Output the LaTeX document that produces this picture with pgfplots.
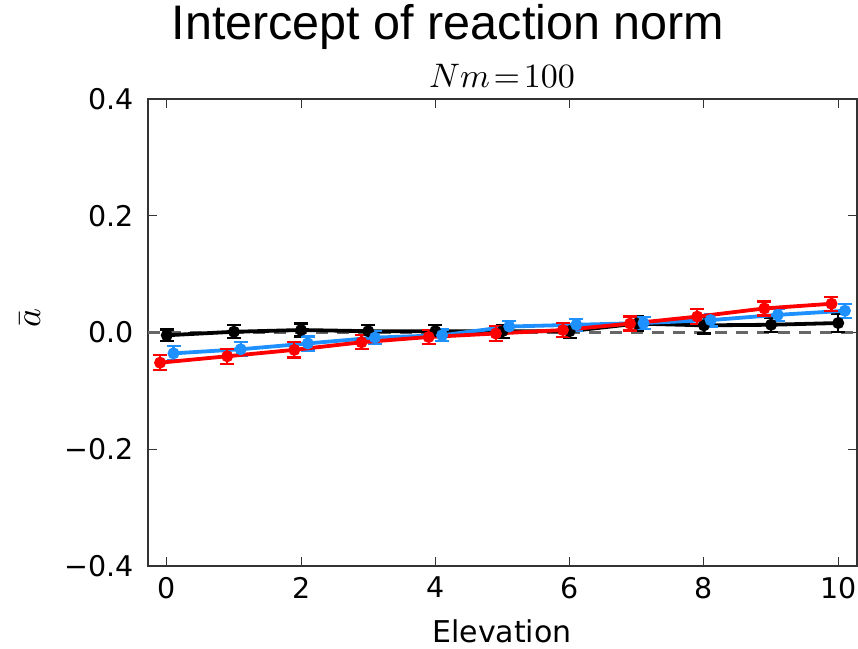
\documentclass[border=0pt]{standalone}
\usepackage{fontspec}
\setmainfont{DejaVu Sans}
\newfontfamily\arialfont{Liberation Sans}
\usepackage{graphicx}
\usepackage{pgfplots}
\usepackage{pgfplotstable}
\pgfplotsset{compat=1.18}
\definecolor{mblue}{RGB}{30,144,255}
\definecolor{mred}{RGB}{255,0,0}

\pgfplotstableread{
x y e
0 -0.005 0.010
1 0.001 0.011
2 0.004 0.011
3 0.002 0.011
4 0.002 0.010
5 0.002 0.011
6 0.002 0.011
7 0.015 0.012
8 0.012 0.014
9 0.013 0.012
10 0.016 0.016
}\blackdata

\pgfplotstableread{
x y e
0.1 -0.036 0.012
1.1 -0.029 0.012
2.1 -0.019 0.012
3.1 -0.009 0.011
4.1 -0.005 0.010
5.1 0.010 0.010
6.1 0.013 0.010
7.1 0.016 0.010
8.1 0.021 0.011
9.1 0.030 0.011
10.1 0.037 0.012
}\bluedata

\pgfplotstableread{
x y e
-0.1 -0.052 0.013
0.9 -0.041 0.013
1.9 -0.030 0.013
2.9 -0.017 0.012
3.9 -0.008 0.012
4.9 -0.002 0.013
5.9 0.004 0.012
6.9 0.015 0.012
7.9 0.027 0.013
8.9 0.041 0.012
9.9 0.049 0.012
}\reddata

\pgfplotstableread{
x y
-0.28 0
10.28 0
}\zerodata

\begin{document}
\begin{tikzpicture}
\path[use as bounding box] (0,0) rectangle (858pt,648pt);
\begin{axis}[
  at={(148pt,82.3pt)}, anchor=south west,
  width=709pt, height=466.7pt, scale only axis,
  xmin=-0.28, xmax=10.28, ymin=-0.4, ymax=0.4,
  xtick={0,2,4,6,8,10},
  xticklabels={0,2,4,6,8,10},
  ytick={-0.4,-0.2,0,0.2,0.4},
  yticklabels={−0.4,−0.2,0.0,0.2,0.4},
  tick align=inside,
  major tick length=9pt,
  minor tick num=0,
  tick style={line width=1pt, color=black!80},
  axis line style={line width=1.8pt, color=black!80},
  xticklabel style={font=\fontsize{28.5}{34}\selectfont, anchor=north, inner sep=0pt, yshift=-11pt},
  yticklabel style={font=\fontsize{28.5}{34}\selectfont, anchor=east, inner sep=0pt, xshift=-14pt},
  clip=false,
]
\addplot[gray!80!black, line width=2.5pt, dash pattern=on 12pt off 9pt] table[x=x, y=y] {\zerodata};
\addplot[black, line width=3.8pt, mark=*, mark size=4pt,
  error bars/.cd, y dir=both, y explicit,
  error bar style={line width=2.2pt, black},
  error mark options={rotate=90, mark size=7pt, line width=2.2pt, black}]
  table[x=x, y=y, y error=e] {\blackdata};
\addplot[mblue, line width=3.8pt, mark=*, mark size=4pt,
  error bars/.cd, y dir=both, y explicit,
  error bar style={line width=2.2pt, mblue},
  error mark options={rotate=90, mark size=7pt, line width=2.2pt, mblue}]
  table[x=x, y=y, y error=e] {\bluedata};
\addplot[mred, line width=3.8pt, mark=*, mark size=4pt,
  error bars/.cd, y dir=both, y explicit,
  error bar style={line width=2.2pt, mred},
  error mark options={rotate=90, mark size=7pt, line width=2.2pt, mred}]
  table[x=x, y=y, y error=e] {\reddata};
\end{axis}
\node[anchor=base, font=\arialfont\fontsize{48.5}{58}\selectfont] at (448pt,608pt) {Intercept of reaction norm};
\node[anchor=base] at (502pt,560pt) {\scalebox{3.4}{$Nm\!=\!100$}};
\node[rotate=90] at (30pt,330pt) {\scalebox{3.6}{$\bar{a}$}};
\node[anchor=base, font=\fontsize{30}{36}\selectfont] at (502pt,6pt) {Elevation};
\end{tikzpicture}
\end{document}
